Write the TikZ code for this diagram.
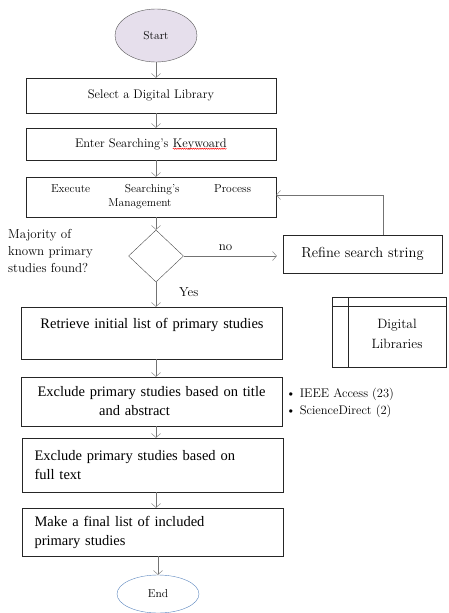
\documentclass[tikz,border=0pt]{standalone}
\usepackage{fontspec}
\newfontfamily\timesf{Liberation Serif}
\usetikzlibrary{shapes.geometric,arrows.meta,decorations.pathmorphing}

\definecolor{startfill}{HTML}{E6DFEC}
\definecolor{endline}{HTML}{5B86BE}

% red wavy spell-check line
\newcommand\spellwave[1]{\tikz[baseline=(sw.base)]{%
  \node[shape=rectangle, draw=none, fill=none, minimum width=0pt, minimum height=0pt,
        inner sep=0pt, outer sep=0pt] (sw) {#1};
  \draw[red, line width=0.5pt, decorate, decoration={snake, amplitude=0.6pt, segment length=2.2pt}]
        ([yshift=-1.6pt]sw.base west) -- ([yshift=-1.6pt]sw.base east);}}

\tikzset{
  flow/.style={draw=black!55, -{Straight Barb[length=4pt,width=9pt]}},
  term/.style={ellipse, inner sep=0pt, font=\fontsize{11.5}{13}\selectfont},
  upbox/.style={draw=black!85, minimum width=250pt, inner sep=0pt, font=\fontsize{12.5}{14}\selectfont},
  lowbox/.style={draw=black!85, minimum width=261pt, inner sep=0pt, text width=250pt, font=\timesf\fontsize{14.5}{19}\selectfont},
  plain/.style={inner sep=0pt, font=\fontsize{13}{17}\selectfont},
}

\begin{document}
\begin{tikzpicture}[x=1pt,y=-1pt]
    \useasboundingbox (0,0) rectangle (448,613);

    % Start / End
    \node[term, draw=black!65, fill=startfill, minimum width=82pt, minimum height=53pt] (start) at (156,35.5) {Start};
    \node[term, draw=endline, minimum width=82pt, minimum height=38pt] (end) at (158,594) {End};

    % Search steps
    \node[upbox, minimum height=35pt] (select) at (151,95.5) {Select a Digital Library};
    \node[upbox, minimum height=32pt] (keyword) at (151,144) {Enter Searching's \spellwave{Keywoard}};
    \node[upbox, minimum height=40pt, text width=200pt, align=center, font=\fontsize{11.5}{14}\selectfont] (execute) at (151,197)
        {Execute\hfill Searching's\hfill Process\\Management\hspace*{22pt}\mbox{}};

    % Decision
    \node[diamond, draw=black!70, inner sep=0pt, minimum width=55pt, minimum height=52pt] (check) at (156,256) {};
    \node[plain, anchor=north west, align=left] (question) at (8,229) {Majority of\\known primary\\studies found?};
    \node[draw=black!85, minimum width=159pt, minimum height=38pt, inner sep=0pt, font=\fontsize{14.5}{16}\selectfont] (refine) at (362.5,254) {Refine search string};

    % Selection steps
    \node[lowbox, minimum height=52pt, align=center] (retrieve) at (152,333) {Retrieve initial list of primary studies\\\mbox{}};
    \node[lowbox, minimum height=49pt, align=center] (title) at (151.5,401.5) {Exclude primary studies based on title\\and abstract\hspace*{34pt}\mbox{}};
    \node[lowbox, minimum height=54pt, text width=236pt, align=left] (fulltext) at (152.5,465) {Exclude primary studies based on\\full text};
    \node[lowbox, minimum height=48pt, text width=236pt, align=left] (final) at (152.5,532) {Make a final list of included\\primary studies};

    % Digital libraries store
    \node[draw=black!85, minimum width=114pt, minimum height=70pt, inner sep=0pt] (store) at (389,332) {};
    \draw[black!85] ([yshift=-9pt]store.north west) -- ([yshift=-9pt]store.north east);
    \draw[black!85] ([xshift=16pt]store.north west) -- ([xshift=16pt]store.south west);
    \node[plain, align=center, font=\fontsize{13.5}{20}\selectfont] (storename) at (397,334) {Digital\\Libraries};
    \node[plain, anchor=west, align=left, font=\fontsize{12.5}{17}\selectfont] (sources) at (286,403)
        {\textbullet\ IEEE Access (23)\\\textbullet\ ScienceDirect (2)};

    % Connectors
    \draw[flow] (start.south) -- (start.south |- select.north);
    \draw[flow] (select.south -| start.south) -- (keyword.north -| start.south);
    \draw[flow] (keyword.south -| start.south) -- (execute.north -| start.south);
    \draw[flow] (execute.south -| check.north) -- (check.north);
    \draw[flow] (check.south) -- (check.south |- retrieve.north);
    \draw[flow] (check.east) -- node[plain, above=5pt, pos=0.45] (no) {no} ([xshift=-6pt]check.east -| refine.west);
    \draw[flow] ([xshift=20.5pt]refine.north) |- ([yshift=2pt]execute.east);
    \node[plain, anchor=west] (yes) at (179,292) {Yes};
    \draw[flow] (retrieve.south -| check.south) -- (title.north -| check.south);
    \draw[flow] (title.south -| check.south) -- (fulltext.north -| check.south);
    \draw[flow] (fulltext.south -| check.south) -- (final.north -| check.south);
    \draw[flow] (final.south -| end.north) -- (end.north);
\end{tikzpicture}
\end{document}
